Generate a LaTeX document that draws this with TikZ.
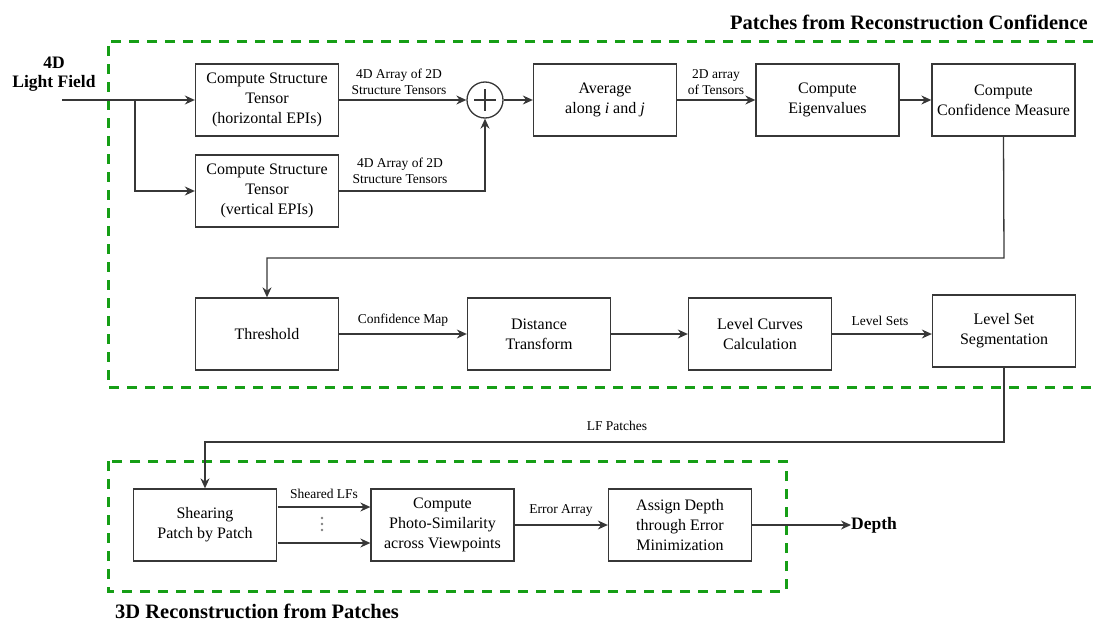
\documentclass[tikz,border=0pt]{standalone}
\usepackage{fontspec}
\setmainfont{Liberation Serif}
\usetikzlibrary{arrows.meta}
\definecolor{dgreen}{RGB}{22,158,22}
\definecolor{lin}{RGB}{55,55,55}
\begin{document}
\begin{tikzpicture}[x=1pt,y=-1pt,
  blk/.style={draw=lin, line width=1.3pt, minimum width=143pt, minimum height=72pt, align=center, inner sep=0pt, font=\fontsize{16}{20}\selectfont},
  lbl/.style={align=center, inner sep=0pt, font=\fontsize{13.5}{16.5}\selectfont},
  ttl/.style={inner sep=0pt, font=\fontsize{20.5}{24}\selectfont\bfseries},
  btxt/.style={align=center, inner sep=0pt, font=\fontsize{17.5}{19}\selectfont\bfseries},
  arr/.style={draw=lin, line width=1.3pt, -{Stealth[length=10pt,width=9pt]}},
  ln/.style={draw=lin, line width=1.3pt},
  grp/.style={draw=dgreen, line width=3pt, dash pattern=on 10pt off 8pt}]
\useasboundingbox (0,0) rectangle (1093,621);

% group frames
\draw[grp] (1093,41) -- (108,41) -- (108,387) -- (1093,387);
\draw[grp] (108,461) rectangle (786,591);
\node[ttl, anchor=east] (t1) at (1088,22) {Patches from Reconstruction Confidence};
\node[ttl, anchor=base west] (t2) at (115,618) {3D Reconstruction from Patches};

% input
\node[btxt] (lf) at (54,74) {4D\\Light Field};
\coordinate (in) at (62,100);
\coordinate (split) at (135,100);

% row 1
\node[blk] (b1) at (267,100) {Compute Structure\\Tensor\\(horizontal EPIs)};
\node[blk] (b2) at (267,191) {Compute Structure\\Tensor\\(vertical EPIs)};
\node[draw=lin, line width=1.3pt, circle, minimum size=36pt, inner sep=0pt] (sum) at (485,100) {};
\draw[lin, line width=1.1pt] (sum.center) ++(-11,0) -- ++(22,0) (sum.center) ++(0,-11) -- ++(0,22);
\node[blk] (avg) at (605,100) {Average\\along \textit{i} and \textit{j}};
\node[blk] (eig) at (827.5,100) {Compute\\Eigenvalues};
\node[blk] (conf) at (1003.5,100) {Compute\\Confidence Measure};

\draw[arr] (in) -- (b1.west);
\draw[arr] (split) |- (b2.west);
\draw[arr] (b1.east) -- (sum.west);
\draw[arr] (b2.east) -| (sum.south);
\draw[arr] (sum.east) -- (avg.west);
\draw[arr] (avg.east) -- (eig.west);
\draw[arr] (eig.east) -- (conf.west);

\node[lbl] (l1) at (399,82) {4D Array of 2D\\Structure Tensors};
\node[lbl] (l2) at (400,171) {4D Array of 2D\\Structure Tensors};
\node[lbl] (l3) at (716,82) {2D array\\of Tensors};

% row 2
\node[blk] (thr) at (267,334) {Threshold};
\node[blk] (dist) at (539,334) {Distance\\Transform};
\node[blk] (lc) at (760,334) {Level Curves\\Calculation};
\node[blk] (ls) at (1004,331) {Level Set\\Segmentation};

\coordinate (c1) at (1004,258);
\draw[arr] (conf.south) -- (c1) -| (thr.north);
\draw[arr] (thr.east) -- (dist.west);
\draw[arr] (dist.east) -- (lc.west);
\draw[arr] (lc.east) -- (lc.east -| ls.west);

\node[lbl] (l4) at (403,320) {Confidence Map};
\node[lbl] (l5) at (880,321) {Level Sets};

% row 3
\node[blk] (sh) at (205,525) {Shearing\\Patch by Patch};
\node[blk] (ph) at (442.5,525) {Compute\\Photo-Similarity\\across Viewpoints};
\node[blk] (as) at (680,525) {Assign Depth\\through Error\\Minimization};
\node[btxt, anchor=west] (dep) at (851,525) {Depth};

\coordinate (c2) at (1004,442);
\draw[arr] (ls.south) -- (c2) -| (sh.north);
\node[lbl] (l6) at (617,426) {LF Patches};

\coordinate (s1) at (277.5,507);
\coordinate (s2) at (277.5,543);
\draw[arr] (s1) -- (s1 -| ph.west);
\draw[arr] (s2) -- (s2 -| ph.west);
\foreach \yy in {518,524,530} \fill[gray] (322,\yy) circle (1.3);
\node[lbl] (l7) at (324,494) {Sheared LFs};

\draw[arr] (ph.east) -- (as.west);
\node[lbl] (l8) at (561,510) {Error Array};
\draw[arr] (as.east) -- (dep.west);
\end{tikzpicture}
\end{document}
